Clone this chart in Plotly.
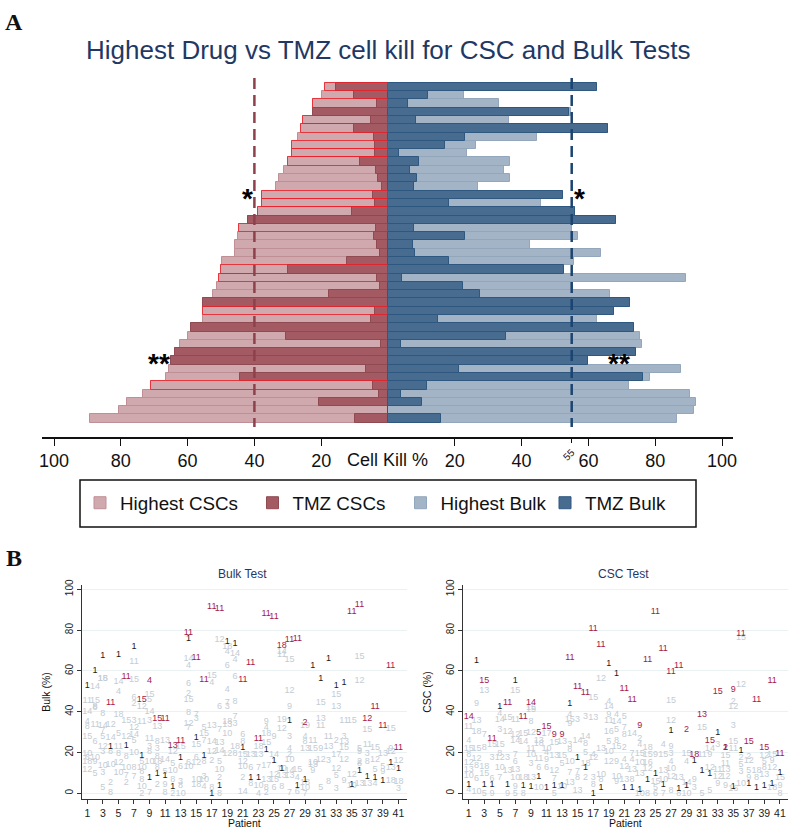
import plotly.graph_objects as go

W, H = 790, 829
def fx(p): return p / W
def fy(p): return 1 - p / H

rows = list(range(1, 42))
highest_csc = [19,19.8,22.4,22.4,25.5,26,27,28.8,28.8,30,31.2,32.6,33.4,37.6,37.6,38.8,42,44.6,45,45.8,45.8,49.6,50,50.6,51.2,52.4,55.3,55.3,55.4,58.9,59.9,62.4,63.7,65,65.6,66.6,70.9,73.3,78.2,80.6,89.3]
tmz_csc = [15.7,10.3,3.3,22.4,5.2,10.3,4.2,4,4,8.5,3.6,3,1.8,4.5,4,10.7,42,3.5,4.2,3.2,2.4,12.3,30,3.3,2.5,17.7,55.3,4,5.2,58.9,30.6,2.2,63.7,65,6.7,44.4,4.5,2.8,20.8,0,10]
highest_bulk = [62.5,22.8,33.1,54.9,36.2,65.9,44.7,26.3,23.7,36.4,34.7,36.4,26.8,52.5,45.8,55.9,68.3,55,57,42.4,63.9,55.8,52.6,89.1,55.5,66.4,72.4,67.6,62.7,73.6,75.3,75.9,74.2,60,87.7,78.5,72.3,90.3,92.2,91.5,86.4]
tmz_bulk = [62.5,12,6,54.3,8.3,65.9,23,17.2,3.2,9.3,6.5,8.6,7.8,52.5,18.2,55.9,68.3,7.8,23,7.6,8,18.4,52.6,4.1,22.4,27.4,72.4,67.6,14.9,73.6,35.3,3.9,74.2,60,21.3,76.2,11.8,3.9,10.2,0,15.9]
outlined_rows = [1,3,5,6,8,9,10,14,15,16,18,23,24,28,37]
csc_cut = 40
bulk_cut = 55
main_ticks = [100,80,60,40,20,20,40,60,80,100]
main_tick_vals = [-100,-80,-60,-40,-20,20,40,60,80,100]

bulk_top = [(4,11,44.6),(6,11,56.9),(8,15,45.8),(9,4,55),(10,15,36.4),(11,11,36.3),(12,13,23.5),(13,11,26),(14,11,78.8),(15,11,66.3),(16,11,55.9),(17,11,91.5),(18,11,90.4),(21,11,55.6),(22,11,63.9),(23,11,26.6),(24,11,87.9),(25,11,86.6),(26,18,72.2),(27,11,75.2),(28,11,75.8),(29,2,34.6),(35,11,89),(36,11,92.3),(37,12,36.3),(38,11,42.5),(39,11,33.3),(40,11,62.6),(41,11,22.5)]
bulk_tmz = [52.6,60,67.5,22.9,68,23.2,72,18.5,7.8,9.5,8.5,3.3,17.2,75.8,27.3,18.5,0,3.8,74.2,73.5,22.4,7.7,7.8,21.2,16,11.8,35.5,3.8,6.4,62.3,56,65.9,52.5,54.2,4,11,8.2,7.5,6,15.2,11.8]
bulk_other = [
(1,14,40),(1,4,35),(1,8,32.7),(1,15,27.8),(1,10,19.6),(1,6,17.2),(1,18,15.5),(1,12,11.4),(1,11,45.4),
(2,14,52),(2,15,45.4),(2,8,42.5),(2,8,42),(2,11,33.5),(2,6,25.3),(2,10,17.6),(2,9,15.5),(2,5,9.5),
(3,18,56),(3,15,56),(3,8,38.9),(3,14,33),(3,7,30.7),(3,5,27.5),(3,12,22.9),(3,3,20.4),(3,10,13.4),(3,3,10),(3,5,2.5),
(4,12,33.5),(4,14,27),(4,8,20.4),(4,10,13.9),(4,2,5.2),(4,8,0.5),
(5,14,54.7),(5,4,50),(5,18,38.4),(5,5,29.4),(5,11,22.9),(5,8,19.6),(5,12,15.2),(5,10,10.3),
(6,15,35.6),(6,12,27.8),(6,8,18),(6,10,12.3),(6,7,8.5),(6,2,5.2),
(7,11,64.4),(7,15,55.5),(7,6,46.6),(7,2,43.8),(7,3,35.6),(7,12,31.9),(7,14,28.6),(7,5,26),(7,10,20),(7,8,12.3),(7,7,8.2),
(8,12,42.6),(8,11,35),(8,5,15.5),(8,10,12.3),(8,8,10.6),(8,8,6.5),(8,10,3.3),(8,2,0),
(9,15,48.5),(9,5,46),(9,14,40),(9,3,35.6),(9,11,26.5),(9,3,22.9),(9,8,20.4),(9,10,15.5),(9,7,0.3),
(10,13,32.7),(10,8,25.3),(10,3,22),(10,8,18),(10,18,15.5),(10,8,12.3),(10,2,4),
(11,13,25.8),(11,14,16.3),(11,5,10.6),(11,9,4),(11,8,0.3),
(12,12,20.4),(12,5,14.7),(12,10,11),(12,8,6.5),(12,2,0),
(13,15,22.9),(13,6,13),(13,3,5.7),(13,8,3.6),(13,10,0),
(14,14,65.8),(14,4,62.4),(14,6,53.6),(14,2,49),(14,15,45.8),(14,8,39.5),(14,12,34.3),(14,7,31.9),(14,6,15),(14,10,13),
(15,7,38.4),(15,3,36.3),(15,15,23.7),(15,6,17.2),(15,12,15.2),(15,10,6.5),(15,18,4),
(16,5,31.9),(16,15,29),(16,7,25.8),(16,8,15.5),(16,3,8.2),(16,10,6.5),(16,4,3),
(17,15,57.5),(17,4,54),(17,13,33),(17,14,25.3),(17,12,20.4),(17,2,15.8),(17,8,2.5),
(18,12,75.2),(18,6,42.5),(18,7,31),(18,13,25),(18,14,21),(18,5,15.5),(18,10,11.4),(18,2,7.8),(18,8,0),
(19,18,71.9),(19,4,69.3),(19,6,62.4),(19,4,50.7),(19,7,44.6),(19,3,42.5),(19,18,35),(19,13,33.5),(19,10,29),(19,12,19.6),
(20,14,68.6),(20,4,65.4),(20,6,57.2),(20,8,45),(20,7,37.6),(20,3,34),(20,18,22.9),(20,8,19.6),
(21,6,28.6),(21,8,25.3),(21,15,18.8),(21,12,15.5),(21,10,13),(21,2,7.4),(21,14,0.8),
(22,13,18.8),(22,6,12.3),(22,8,4.9),
(23,18,22.9),(23,13,18.8),(23,7,12.3),(23,10,3.6),(23,4,0),
(24,9,35),(24,4,32),(24,18,29),(24,15,25),(24,17,13.6),(24,13,6.5),(24,8,2.9),(24,2,0.3),
(25,9,27.8),(25,14,18.8),(25,12,9),(25,15,6.5),(25,6,2.5),
(26,14,69.4),(26,11,68),(26,19,36),(26,12,31.5),(26,10,12),(26,13,8.5),(26,8,3),
(27,15,65.4),(27,12,50.2),(27,9,42.2),(27,3,27.5),(27,4,22),(27,2,18.8),(27,10,16.3),(27,14,11),(27,13,8.5),(27,7,0.3),
(28,15,11.4),(28,4,7.4),(28,6,0.8),
(29,19,33),(29,4,27.5),(29,8,25.3),(29,13,22),(29,18,5.2),(29,10,2.5),(29,7,0),
(30,11,25.8),(30,15,22),(30,10,15.2),(30,13,13.9),(30,9,11.1),
(31,15,44.3),(31,13,36.4),(31,11,33.2),(31,9,22),(31,12,16.3),(31,5,2.9),
(32,11,27.8),(32,13,22.9),(32,3,16),(32,8,5.7),
(33,15,48.2),(33,13,42.3),(33,2,25.7),(33,17,18.8),(33,12,11.9),(33,5,8.5),(33,3,2.1),
(34,11,35.6),(34,3,27.8),(34,13,25.3),(34,15,22.4),(34,12,16.3),(34,9,6),
(35,15,35.6),(35,12,9),(35,10,3.6),
(36,15,67),(36,12,55),(36,5,22),(36,9,20.4),(36,2,15.5),(36,8,14.7),(36,13,4.9),
(37,15,31),(37,11,23.7),(37,3,19.3),(37,8,15.5),(37,13,4.6),
(38,15,22.5),(38,12,16.3),(38,5,11.4),(38,4,4.9),
(39,13,19.6),(39,5,13),(39,9,10.6),
(40,15,31.4),(40,9,22),(40,12,20.4),(40,13,12.3),(40,18,6),
(41,12,16),(41,18,5.7),(41,3,2),
]

csc_top = [(1,14,37.6),(3,15,55),(4,11,26.6),(6,11,44.6),(8,11,37.6),(9,14,44.3),(10,5,29.9),(11,15,32.4),(12,9,28.8),(13,9,28.8),(14,11,66.5),(15,11,52.3),(16,11,49.3),(17,11,80.6),(18,11,73),(21,11,51.1),(22,11,45.8),(23,9,33.2),(24,11,65.4),(25,11,88.9),(26,11,70.8),(27,11,59.6),(28,11,62.4),(29,2,31),(30,18,19),(31,13,38.7),(32,15,26),(33,15,49.8),(34,2,22.4),(35,9,50.7),(36,11,78.3),(37,15,25.5),(38,11,45.8),(39,15,22.2),(40,11,55.2),(41,11,19.6)]
csc_tmz = [4,65,4,4,42.2,4,55,3.8,3.3,8.2,2.9,3.8,3.8,44,17.6,12.3,0,2.8,63.4,58.8,2.5,2.5,1.6,6.5,9.8,4,30.7,2,3.6,15.8,11,9.8,29.9,22.4,3.3,20.8,4.9,2.9,3.6,4.9,10]
csc_other = [
(1,11,32.4),(1,4,26),(1,15,22),(1,8,18.8),(1,12,15),(1,13,11.4),(1,10,8.5),(1,4,1.6),
(2,9,43.8),(2,13,35.5),(2,18,30.2),(2,15,22),(2,12,16.7),(2,8,13.6),(2,6,6.9),(2,10,0.8),
(3,13,50.2),(3,7,28.6),(3,8,22.5),(3,18,13),(3,15,9.8),(3,5,0),
(4,15,23.7),(4,3,17.6),(4,6,7),(4,9,0),
(5,4,39.2),(5,14,35.9),(5,3,31),(5,15,23.7),(5,8,19.6),(5,12,17.2),(5,10,12.3),(5,7,7.8),
(6,15,36.8),(6,12,30.2),(6,3,17.6),(6,13,11),(6,9,0),
(7,15,50.2),(7,11,35.9),(7,12,28.6),(7,14,26),(7,7,18.8),(7,6,15.5),(7,13,11.4),(7,10,7.4),(7,9,3.3),(7,5,0),
(8,15,29.4),(8,14,25.3),(8,18,7.4),(8,8,0),
(9,15,41.7),(9,15,40.8),(9,8,35),(9,12,29.7),(9,11,22),(9,10,18.8),(9,3,14.4),(9,13,7.4),
(10,13,26),(10,18,24.5),(10,11,16.7),(10,6,12.3),(10,10,2.5),
(11,17,29.4),(11,10,22),(11,4,20),(11,9,16.3),(11,6,12.3),
(12,15,25),(12,13,18.5),(12,12,11),(12,7,7),(12,5,0),
(13,13,25.3),(13,15,18.5),(13,5,14.7),(13,10,3.3),
(14,4,38.4),(14,15,36),(14,9,34),(14,3,23.7),(14,8,21.2),(14,10,15.5),(14,7,10),(14,13,5.2),
(15,3,36),(15,14,25.8),(15,7,10.6),(15,8,7.8),(15,13,1.3),
(16,3,37.3),(16,14,27.5),(16,8,24.5),(16,5,20),(16,18,14.7),(16,2,7.4),
(17,15,46.9),(17,13,36.8),(17,4,18.8),(17,12,17.2),(17,3,7.8),(17,8,4),
(18,12,56),(18,13,22),(18,10,9),(18,8,6.5),
(19,4,45),(19,14,42.2),(19,9,38.4),(19,11,35.6),(19,16,30.2),(19,5,25.3),(19,10,20.4),(19,12,15.5),
(20,4,38.4),(20,14,35),(20,5,31),(20,8,26),(20,15,22.9),(20,9,15.5),(20,10,8.2),(20,9,5.7),
(21,5,37.6),(21,7,31.9),(21,8,28.6),(21,2,22.4),(21,4,16.3),(21,12,13),(21,13,6.5),
(22,14,29.4),(22,7,19.6),(22,4,16.3),(22,13,11.4),(22,8,6.5),
(23,2,26.5),(23,4,23.7),(23,15,19.6),(23,10,15.2),(23,13,9.5),(23,10,0),
(24,18,22.4),(24,15,18.8),(24,16,15.2),(24,12,11.8),(24,8,0),
(25,9,18.8),(25,15,5.7),(25,5,2.5),(25,6,0),
(26,4,24),(26,15,18.8),(26,13,11),(26,10,6.5),(26,7,0),
(27,12,35.6),(27,15,45.4),(27,9,22.9),(27,3,19.6),(27,4,15.7),(27,10,11.8),(27,12,8.2),(27,8,1.3),
(28,13,7.4),(28,8,0),
(29,15,19.6),(29,4,15.7),(29,14,5),(29,10,0),
(30,9,6.5),(30,3,2.5),
(31,15,31.9),(31,11,18.8),(31,5,0),
(32,14,22),(32,9,18.8),(32,12,12.3),(32,5,1.3),
(33,3,23.7),(33,11,11.4),(33,12,8.2),(33,9,4.9),
(34,15,18.3),(34,11,14.7),(34,13,11.4),(34,12,8.2),(34,9,3.6),
(35,2,45),(35,12,42.5),(35,3,33),(35,15,25.3),(35,11,22),(35,16,2),
(36,15,76),(36,12,53),(36,2,17.2),(36,5,13.9),(36,3,10.6),(36,10,4.9),
(37,2,18),(37,12,15.8),(37,5,11),(37,9,7.8),
(38,18,11),(38,8,7.4),
(39,12,18.5),(39,5,15.5),(39,8,12.3),(39,13,9),
(40,15,19),(40,9,15.8),(40,12,12.3),(40,18,2.5),
(41,15,7.4),(41,9,3.6),(41,8,0),
]
patient_ticks = list(range(1, 42, 2))

LIGHT_RED, DARK_RED = "#cfa9ae", "#a45a62"
LIGHT_BLUE, DARK_BLUE = "#a3b4c6", "#476c8f"
NAVY = "#1f3864"
FONT = "Liberation Sans"

fig = go.Figure()
neg = lambda a: [-v for v in a]
bar_common = dict(orientation="h", y=rows, xaxis="x", yaxis="y", width=1)
fig.add_trace(go.Bar(x=neg(highest_csc), name="Highest CSCs", legend="legend", marker=dict(color=LIGHT_RED, line=dict(color="#c08f96", width=1)), **bar_common))
fig.add_trace(go.Bar(x=neg(tmz_csc), name="TMZ CSCs", legend="legend2", marker=dict(color=DARK_RED, line=dict(color="#8f4a52", width=1)), **bar_common))
fig.add_trace(go.Bar(x=highest_bulk, name="Highest Bulk", legend="legend3", marker=dict(color=LIGHT_BLUE, line=dict(color="#93a7bc", width=1)), **bar_common))
fig.add_trace(go.Bar(x=tmz_bulk, name="TMZ Bulk", legend="legend4", marker=dict(color=DARK_BLUE, line=dict(color="#2f5880", width=1)), **bar_common))
fig.add_trace(go.Bar(x=[-highest_csc[r-1] for r in outlined_rows], y=outlined_rows, orientation="h", width=1,
                     xaxis="x", yaxis="y", showlegend=False,
                     marker=dict(color="rgba(0,0,0,0)", line=dict(color="rgba(240,30,40,0.8)", width=1))))
fig.add_trace(go.Scatter(x=[-csc_cut, -csc_cut], y=[-0.1, 42], mode="lines", xaxis="x", yaxis="y", showlegend=False,
                         line=dict(color="#8f414b", width=2.5, dash="11px,6px")))
fig.add_trace(go.Scatter(x=[bulk_cut, bulk_cut], y=[-0.1, 42], mode="lines", xaxis="x4", yaxis="y", showlegend=False,
                         line=dict(color="#1c4470", width=2.5, dash="11px,6px")))

def add_labels(pts, color, xa, ya, size=9):
    txt = [str(l) for _, l, _ in pts]
    fig.add_trace(go.Scatter(x=[p for p, _, _ in pts], y=[v for _, _, v in pts], text=txt, mode="text",
                             textposition="middle center", textfont=dict(color=color, size=size, family=FONT),
                             xaxis=xa, yaxis=ya, showlegend=False, cliponaxis=False))

for other, top, tmz, xa, ya in [(bulk_other, bulk_top, bulk_tmz, "x2", "y2"), (csc_other, csc_top, csc_tmz, "x3", "y3")]:
    add_labels(other, "#c3ccd4", xa, ya)
    add_labels([(i + 1, 1, v) for i, v in enumerate(tmz)], "#1a1a1a", xa, ya)
    add_labels(top, "#a8174a", xa, ya)

main_range = [-(388-42)/3.34, (733-388)/3.34]
main_axis = dict(domain=[fx(42), fx(733)], range=main_range, anchor="y", showgrid=False, zeroline=False,
                 showline=True, linecolor="#111", linewidth=1.5)
def panel_y(title):
    return dict(domain=[fy(799), fy(585)], range=[-2.8, 102.1], showgrid=True, gridcolor="#e9f1f3", gridwidth=1,
                zeroline=False, showline=True, linecolor="#333", linewidth=1, ticks="outside", ticklen=4, tickcolor="#333",
                tickvals=[0,20,40,60,80,100], tickangle=-90, tickfont=dict(size=10, color="#222", family=FONT),
                title=dict(text=title, font=dict(size=10.5, color="#111", family=FONT), standoff=11))
def panel_x(x0, x1, rng, anchor):
    return dict(domain=[fx(x0), fx(x1)], range=rng, anchor=anchor, showgrid=False, zeroline=False, showline=True,
                linecolor="#333", linewidth=1, ticks="outside", ticklen=4, tickcolor="#333", tickvals=patient_ticks,
                tickfont=dict(size=10.5, color="#222", family=FONT),
                title=dict(text="Patient", font=dict(size=10.5, color="#111", family=FONT), standoff=0))
def entry(left):
    return dict(orientation="h", x=fx(left), y=fy(503), yanchor="middle", xanchor="left",
                font=dict(size=18.8, color="#111", family=FONT), bgcolor="rgba(0,0,0,0)")

fig.update_layout(
    width=W, height=H, margin=dict(l=0, r=0, t=0, b=0, autoexpand=False), paper_bgcolor="white", plot_bgcolor="white",
    barmode="overlay", bargap=0, font=dict(family=FONT, color="#111"),
    xaxis=dict(main_axis, tickvals=main_tick_vals, ticktext=[str(t) for t in main_ticks], ticks="outside", ticklen=7,
               tickwidth=1, tickcolor="#111", tickfont=dict(size=18, color="#111", family=FONT)),
    xaxis4=dict(main_axis, overlaying="x", tickvals=[bulk_cut], ticktext=[str(bulk_cut)], ticks="outside", ticklen=4,
                tickwidth=1, tickcolor="#111", tickangle=-45, tickfont=dict(size=10, color="#111", family=FONT)),
    yaxis=dict(domain=[fy(437), fy(74)], range=[43.22, -0.57], visible=False),
    xaxis2=panel_x(81.7, 407, [0.28, 42.1], "y2"), yaxis2=dict(panel_y("Bulk (%)"), anchor="x2"),
    xaxis3=panel_x(462.7, 788, [0.23, 42.04], "y3"), yaxis3=dict(panel_y("CSC (%)"), anchor="x3"),
    legend=entry(80), legend2=entry(252.5), legend3=entry(400.5), legend4=entry(545),
    shapes=[dict(type="rect", xref="paper", yref="paper", x0=fx(80), x1=fx(696), y0=fy(480), y1=fy(527),
                 line=dict(color="#111", width=1.5), fillcolor="rgba(0,0,0,0)")],
)

def note(text, x, y, size, color="#111", family=FONT, xref="paper", yref="paper", **kw):
    fig.add_annotation(text=text, x=x, y=y, xref=xref, yref=yref, showarrow=False, xanchor="center", yanchor="middle",
                       font=dict(size=size, color=color, family=family), **kw)

note("Highest Drug vs TMZ cell kill for CSC and Bulk Tests", fx(388), fy(50), 26, NAVY)
note("<b>A</b>", fx(14), fy(22), 24, "#111", "Liberation Serif")
note("<b>B</b>", fx(14), fy(558), 24, "#111", "Liberation Serif")
note("Bulk Test", fx(243), fy(574), 12, NAVY)
note("CSC Test", fx(623), fy(574), 12, NAVY)
note("Cell Kill %", fx(387), fy(460), 18)
for txt, xv, rv in [("*", -42.2, 14.4), ("*", 57.2, 14.4), ("**", -68.6, 34.4), ("**", 69.2, 34.4)]:
    note(f"<b>{txt}</b>", xv, rv, 28, "#000", FONT, xref="x", yref="y")

fig.write_html("out.html", config={"displayModeBar": False},
               post_script="document.body.style.margin='0';document.body.style.overflow='hidden';")
